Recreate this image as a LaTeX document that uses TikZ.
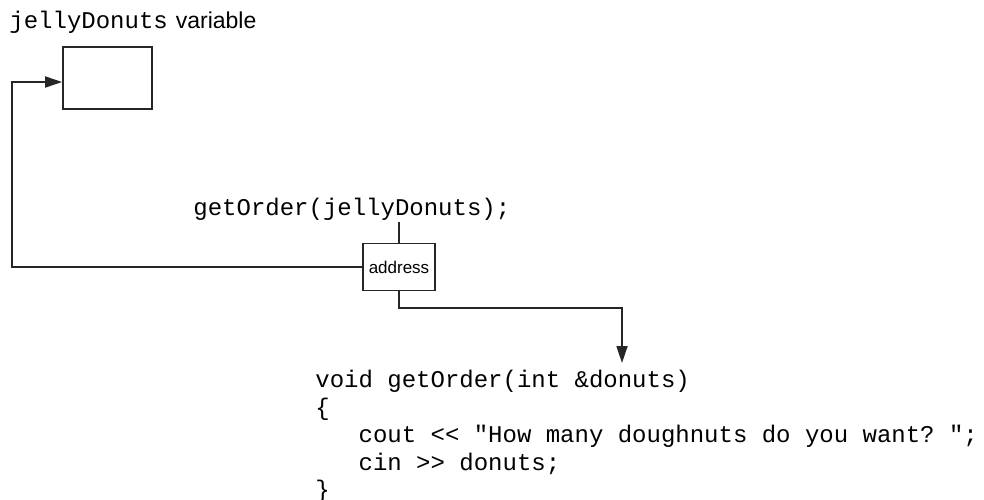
\documentclass[tikz,border=0pt]{standalone}
\usepackage{fontspec}
\setmainfont{Liberation Sans}
\setsansfont{Liberation Sans}
\setmonofont{Liberation Mono}
\usetikzlibrary{arrows.meta}

\begin{document}
\begin{tikzpicture}[x=0.5pt, y=-0.5pt, line join=miter, >={Triangle[length=8.5pt,width=5.5pt]},
	wire/.style={line width=0.9pt, draw=black!85},
	cell/.style={draw=black!85, line width=0.9pt, inner sep=0pt},
	code/.style={font=\fontsize{12}{14}\selectfont\ttfamily, inner sep=0pt}]
	\useasboundingbox (0,0) rectangle (984,499);
	
	% variable in memory
	\node[code, anchor=base west] (varlabel) at (9,28) {jellyDonuts\hspace{4pt}{\sffamily\fontsize{11.5}{14}\selectfont variable}};
	\node[cell, minimum width=44.5pt, minimum height=31pt] (var) at (107.5,78) {};
	
	% call and passed address
	\node[code, anchor=base west] (call) at (193,215) {getOrder(jellyDonuts);};
	\node[cell, minimum width=36pt, minimum height=23.5pt, font=\fontsize{8.5}{10}\selectfont\sffamily] (addr) at (399,267) {address};
	
	% function body
	\foreach \i/\y/\txt in {0/387/{void getOrder(int \&donuts)}, 1/415/{\{}, 2/442/{\hphantom{xxx}cout <{}< "How many doughnuts do you want? ";}, 3/470/{\hphantom{xxx}cin >{}> donuts;}, 4/497/{\}}}
		\node[code, anchor=base west] (code\i) at (315,\y) {\txt};
	
	\coordinate (rail) at (12,82);
	\coordinate (callfoot) at (399,222);
	\coordinate (tip) at (622,363);
	
	\draw[wire, ->] (addr.west) -| (rail) -- (rail -| var.west);
	\draw[wire] (callfoot) -- (addr.north);
	\draw[wire, ->] (addr.south) -- ++(0,16.5) -| (tip);
\end{tikzpicture}
\end{document}
